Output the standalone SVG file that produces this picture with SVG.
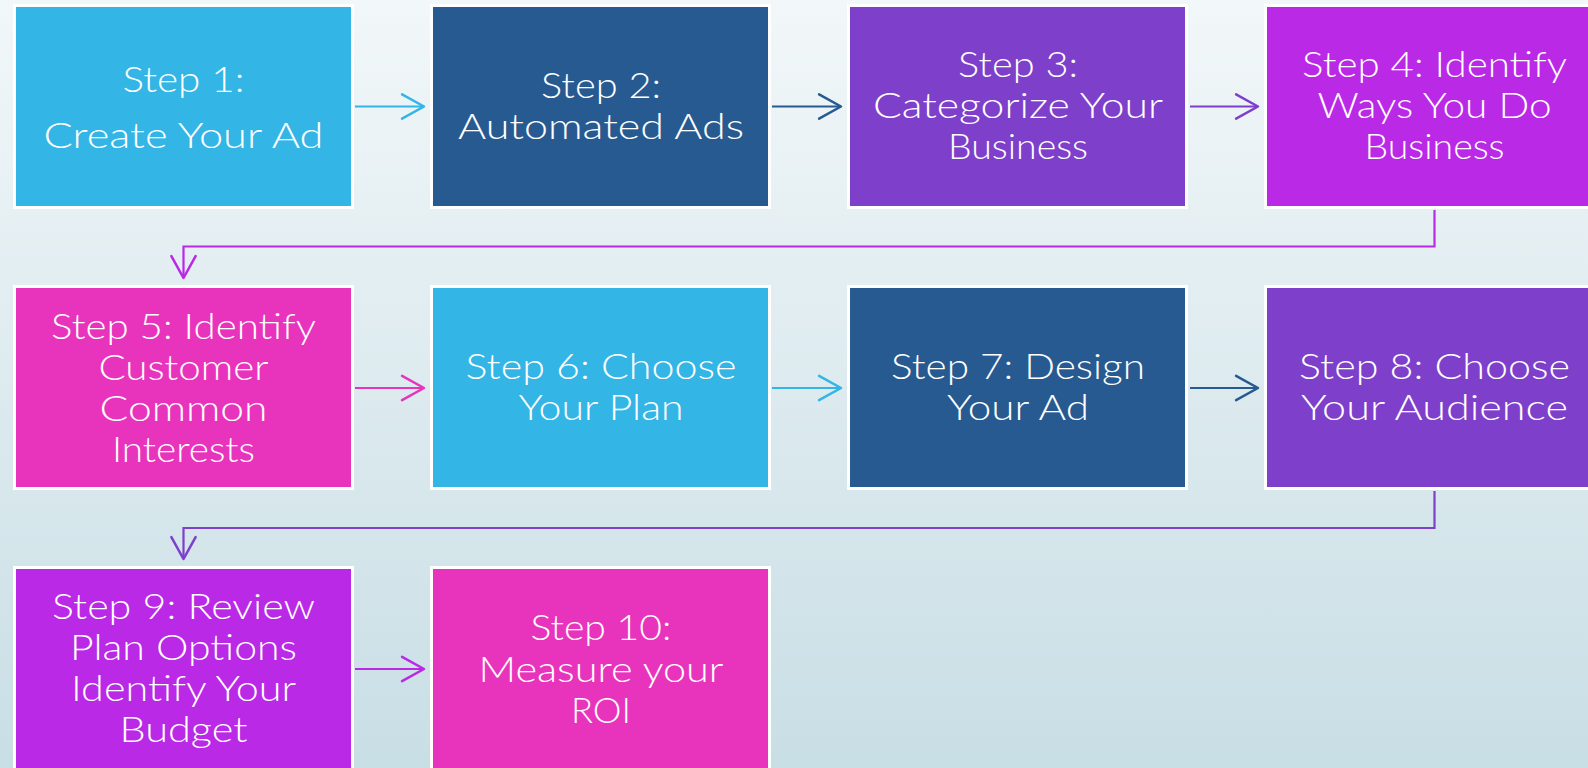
<svg xmlns="http://www.w3.org/2000/svg" width="1588" height="768" viewBox="0 0 1588 768">
<defs>
<linearGradient id="bg" x1="0" y1="0" x2="0" y2="1">
<stop offset="0" stop-color="#F2F7F9"/>
<stop offset="1" stop-color="#C8DEE5"/>
</linearGradient>
<marker id="aLB" markerUnits="userSpaceOnUse" markerWidth="30" markerHeight="30" refX="0" refY="0" viewBox="-22 -13 25 26" orient="auto" overflow="visible"><path d="M-19,-10.5 L0,0 L-19,10.5" fill="none" stroke="#33B5E5" stroke-width="2.2" stroke-linecap="round" stroke-linejoin="round"/></marker>
<marker id="aDB" markerUnits="userSpaceOnUse" markerWidth="30" markerHeight="30" refX="0" refY="0" viewBox="-22 -13 25 26" orient="auto" overflow="visible"><path d="M-19,-10.5 L0,0 L-19,10.5" fill="none" stroke="#275A90" stroke-width="2.2" stroke-linecap="round" stroke-linejoin="round"/></marker>
<marker id="aPU" markerUnits="userSpaceOnUse" markerWidth="30" markerHeight="30" refX="0" refY="0" viewBox="-22 -13 25 26" orient="auto" overflow="visible"><path d="M-19,-10.5 L0,0 L-19,10.5" fill="none" stroke="#7E3FCB" stroke-width="2.2" stroke-linecap="round" stroke-linejoin="round"/></marker>
<marker id="aVI" markerUnits="userSpaceOnUse" markerWidth="30" markerHeight="30" refX="0" refY="0" viewBox="-22 -13 25 26" orient="auto" overflow="visible"><path d="M-19,-10.5 L0,0 L-19,10.5" fill="none" stroke="#B929E6" stroke-width="2.2" stroke-linecap="round" stroke-linejoin="round"/></marker>
<marker id="aPK" markerUnits="userSpaceOnUse" markerWidth="30" markerHeight="30" refX="0" refY="0" viewBox="-22 -13 25 26" orient="auto" overflow="visible"><path d="M-19,-10.5 L0,0 L-19,10.5" fill="none" stroke="#E834BC" stroke-width="2.2" stroke-linecap="round" stroke-linejoin="round"/></marker>
</defs>
<style>
.box{stroke:#FFFFFF;stroke-width:3}
.lb{fill:#33B5E5}.db{fill:#275A90}.pu{fill:#7E3FCB}.vi{fill:#B929E6}.pk{fill:#E834BC}
text{font-family:Lato,"Open Sans","DejaVu Sans",sans-serif;font-weight:300;font-size:36px;fill:#FFFFFF;text-anchor:middle}
.c{fill:none;stroke-width:2.2}
</style>
<rect x="0" y="0" width="1588" height="768" fill="url(#bg)"/>

<g id="connectors">
<line class="c" x1="355" y1="106.5" x2="424" y2="106.5" stroke="#33B5E5" marker-end="url(#aLB)"/>
<line class="c" x1="772" y1="106.5" x2="841" y2="106.5" stroke="#275A90" marker-end="url(#aDB)"/>
<line class="c" x1="1190" y1="106.5" x2="1258" y2="106.5" stroke="#7E3FCB" marker-end="url(#aPU)"/>
<polyline class="c" points="1434.5,210 1434.5,246.5 183.5,246.5 183.5,278" stroke="#B929E6" stroke-linejoin="miter" marker-end="url(#aVI)"/>
<line class="c" x1="355" y1="388" x2="424" y2="388" stroke="#E834BC" marker-end="url(#aPK)"/>
<line class="c" x1="772" y1="388" x2="841" y2="388" stroke="#33B5E5" marker-end="url(#aLB)"/>
<line class="c" x1="1190" y1="388" x2="1258" y2="388" stroke="#275A90" marker-end="url(#aDB)"/>
<polyline class="c" points="1434.5,491 1434.5,528 183.5,528 183.5,559" stroke="#7E3FCB" stroke-linejoin="miter" marker-end="url(#aPU)"/>
<line class="c" x1="355" y1="669" x2="424" y2="669" stroke="#B929E6" marker-end="url(#aVI)"/>
</g>

<g id="step1">
<rect class="box lb" x="14.5" y="5.5" width="338" height="202"/>
<text x="183.5" y="92" textLength="122" lengthAdjust="spacingAndGlyphs">Step 1:</text>
<text x="183.5" y="148" textLength="280" lengthAdjust="spacingAndGlyphs">Create Your Ad</text>
</g>
<g id="step2">
<rect class="box db" x="431.5" y="5.5" width="338" height="202"/>
<text x="601" y="98" textLength="120" lengthAdjust="spacingAndGlyphs">Step 2:</text>
<text x="601" y="139" textLength="286" lengthAdjust="spacingAndGlyphs">Automated Ads</text>
</g>
<g id="step3">
<rect class="box pu" x="848.5" y="5.5" width="338" height="202"/>
<text x="1018" y="77" textLength="120" lengthAdjust="spacingAndGlyphs">Step 3:</text>
<text x="1018" y="118" textLength="290" lengthAdjust="spacingAndGlyphs">Categorize Your</text>
<text x="1018" y="159" textLength="140" lengthAdjust="spacingAndGlyphs">Business</text>
</g>
<g id="step4">
<rect class="box vi" x="1265.5" y="5.5" width="338" height="202"/>
<text x="1434.5" y="77" textLength="265" lengthAdjust="spacingAndGlyphs">Step 4: Identify</text>
<text x="1434.5" y="118" textLength="234" lengthAdjust="spacingAndGlyphs">Ways You Do</text>
<text x="1434.5" y="159" textLength="140" lengthAdjust="spacingAndGlyphs">Business</text>
</g>

<g id="step5">
<rect class="box pk" x="14.5" y="286.5" width="338" height="202"/>
<text x="183.5" y="339" textLength="265" lengthAdjust="spacingAndGlyphs">Step 5: Identify</text>
<text x="183.5" y="380" textLength="170" lengthAdjust="spacingAndGlyphs">Customer</text>
<text x="183.5" y="421" textLength="168" lengthAdjust="spacingAndGlyphs">Common</text>
<text x="183.5" y="462" textLength="143" lengthAdjust="spacingAndGlyphs">Interests</text>
</g>
<g id="step6">
<rect class="box lb" x="431.5" y="286.5" width="338" height="202"/>
<text x="601" y="379" textLength="271" lengthAdjust="spacingAndGlyphs">Step 6: Choose</text>
<text x="601" y="420" textLength="165" lengthAdjust="spacingAndGlyphs">Your Plan</text>
</g>
<g id="step7">
<rect class="box db" x="848.5" y="286.5" width="338" height="202"/>
<text x="1018" y="379" textLength="254" lengthAdjust="spacingAndGlyphs">Step 7: Design</text>
<text x="1018" y="420" textLength="142" lengthAdjust="spacingAndGlyphs">Your Ad</text>
</g>
<g id="step8">
<rect class="box pu" x="1265.5" y="286.5" width="338" height="202"/>
<text x="1434.5" y="379" textLength="271" lengthAdjust="spacingAndGlyphs">Step 8: Choose</text>
<text x="1434.5" y="420" textLength="267" lengthAdjust="spacingAndGlyphs">Your Audience</text>
</g>

<g id="step9">
<rect class="box vi" x="14.5" y="567.5" width="338" height="210"/>
<text x="183.5" y="619" textLength="263" lengthAdjust="spacingAndGlyphs">Step 9: Review</text>
<text x="183.5" y="660" textLength="227" lengthAdjust="spacingAndGlyphs">Plan Options</text>
<text x="183.5" y="701" textLength="225" lengthAdjust="spacingAndGlyphs">Identify Your</text>
<text x="183.5" y="742" textLength="128" lengthAdjust="spacingAndGlyphs">Budget</text>
</g>
<g id="step10">
<rect class="box pk" x="431.5" y="567.5" width="338" height="210"/>
<text x="601" y="640" textLength="141" lengthAdjust="spacingAndGlyphs">Step 10:</text>
<text x="601" y="681.5" textLength="245" lengthAdjust="spacingAndGlyphs">Measure your</text>
<text x="601" y="723" textLength="60" lengthAdjust="spacingAndGlyphs">ROI</text>
</g>
</svg>
